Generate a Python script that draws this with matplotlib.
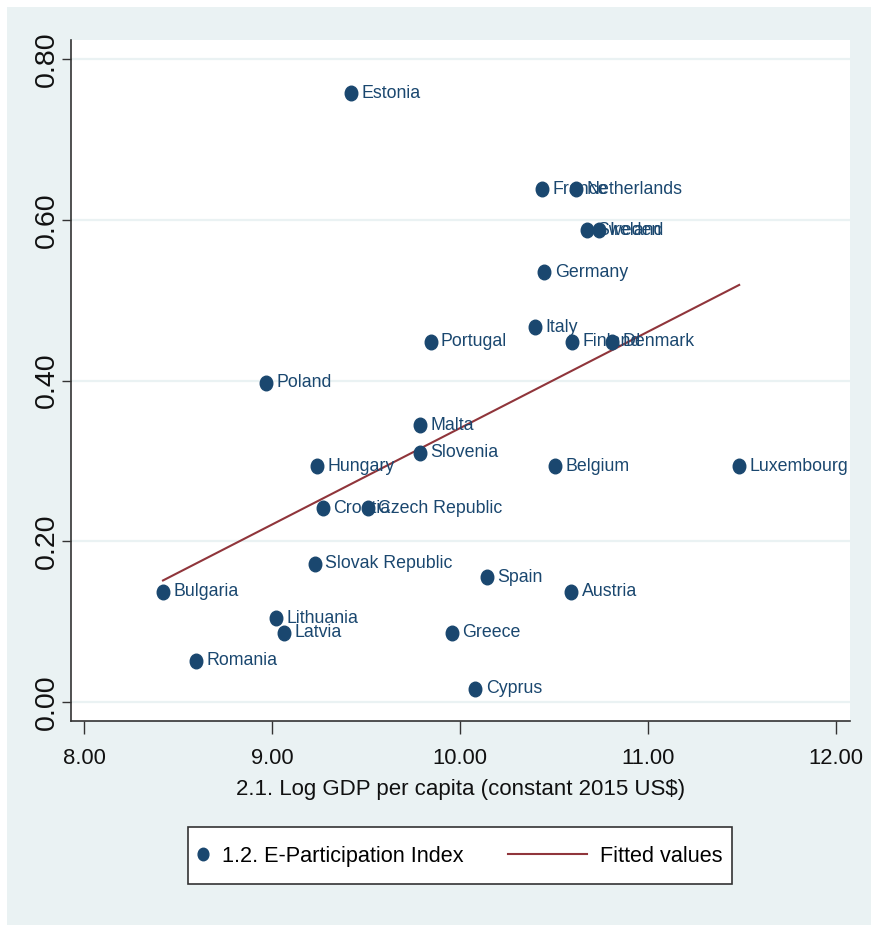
import numpy as np
import matplotlib
matplotlib.use("Agg")
import matplotlib.pyplot as plt
from matplotlib.path import Path
from matplotlib.patches import Rectangle
from matplotlib.legend_handler import HandlerLine2D

# data
countries = ["Estonia", "France", "Netherlands", "Sweden", "Ireland", "Germany",
             "Italy", "Portugal", "Finland", "Denmark", "Poland", "Malta",
             "Slovenia", "Hungary", "Belgium", "Luxembourg", "Croatia",
             "Czech Republic", "Slovak Republic", "Spain", "Bulgaria", "Austria",
             "Lithuania", "Latvia", "Greece", "Romania", "Cyprus"]
log_gdp = [9.421, 10.438, 10.619, 10.677, 10.741, 10.449,
           10.401, 9.843, 10.598, 10.810, 8.967, 9.785,
           9.785, 9.238, 10.507, 11.485, 9.270,
           9.509, 9.227, 10.141, 8.420, 10.592,
           9.020, 9.062, 9.955, 8.595, 10.082]
e_part = [0.758, 0.638, 0.638, 0.587, 0.587, 0.535,
          0.466, 0.448, 0.448, 0.448, 0.397, 0.344,
          0.310, 0.293, 0.293, 0.293, 0.241,
          0.241, 0.172, 0.155, 0.137, 0.137,
          0.104, 0.086, 0.086, 0.051, 0.016]
fit_x = [8.42, 11.485]
fit_y = [0.151, 0.519]
xticks = [8, 9, 10, 11, 12]
yticks = [0.0, 0.2, 0.4, 0.6, 0.8]

navy = "#1A476F"
maroon = "#90353B"
bluegray = "#EAF2F3"
font = ["Liberation Sans", "DejaVu Sans"]

fig = plt.figure(figsize=(8.71, 9.25), dpi=100, facecolor="white")
fig.patches.append(Rectangle((7 / 871, 0), 1, 1 - 7 / 925, transform=fig.transFigure,
                             facecolor=bluegray, edgecolor="none", zorder=-10))

ax = fig.add_axes([70.5 / 871, 1 - 721 / 925, (850 - 70.5) / 871, (721 - 40) / 925])
ax.set_facecolor("white")

# elliptical dot (picture is stretched vertically)
circ = Path.unit_circle()
dot = Path(circ.vertices * [0.86, 1.0], circ.codes)

ax.plot(log_gdp, e_part, linestyle="none", marker=dot, markersize=10.5,
        color=navy, zorder=3, label="1.2. E-Participation Index")
ax.plot(fit_x, fit_y, color=maroon, lw=1.5, zorder=2, label="Fitted values")

for name, x, y in zip(countries, log_gdp, e_part):
    ax.annotate(name, (x, y), xytext=(7.5, 0), textcoords="offset points",
                va="center", ha="left", fontsize=12.8, color=navy, family=font,
                zorder=4)

ax.set_xlim(7.928, 12.0745)
ax.set_ylim(-0.024, 0.824)
ax.set_xticks(xticks)
ax.set_xticklabels(["%.2f" % v for v in xticks], family=font, fontsize=15.8)
ax.set_yticks(yticks)
ax.set_yticklabels(["%.2f" % v for v in yticks], family=font,
                   fontsize=20.5, rotation=90, va="center")
ax.grid(axis="y", color=bluegray, lw=1.6)
ax.grid(axis="x", visible=False)
ax.set_axisbelow(True)
ax.tick_params(axis="x", length=9, width=1.0, color="#333333", pad=10.5, labelcolor="#111111")
ax.tick_params(axis="y", length=6.5, width=1.0, color="#333333", pad=1.5, labelcolor="#111111")
for s in ["top", "right"]:
    ax.spines[s].set_visible(False)
for s in ["left", "bottom"]:
    ax.spines[s].set_color("#333333")
    ax.spines[s].set_linewidth(1.2)

ax.set_xlabel("2.1. Log GDP per capita (constant 2015 US$)", family=font,
              fontsize=16, labelpad=7, color="#111111")


class KeyHandler(HandlerLine2D):
    # lowers the key to the text middle; ext stretches the line to the left
    def __init__(self, ext=0.0, drop=3.5, **kw):
        super().__init__(**kw)
        self.ext = ext
        self.drop = drop

    def get_xdata(self, legend, xdescent, ydescent, width, height, fontsize):
        xd = np.array([-xdescent - self.ext * width, -xdescent + width])
        if self.ext == 0:
            xd = np.array([-xdescent + 0.5 * width])
        return xd, xd

    def create_artists(self, legend, orig_handle, xdescent, ydescent, width,
                       height, fontsize, trans):
        return super().create_artists(legend, orig_handle, xdescent,
                                      ydescent + 2 * self.drop, width, height,
                                      fontsize, trans)


handles, labels = ax.get_legend_handles_labels()
leg = fig.legend(handles, labels, loc="center",
                 bbox_to_anchor=(460 / 871, 1 - 855.5 / 925), ncol=2,
                 prop={"family": font, "size": 15.6}, frameon=True, fancybox=False,
                 edgecolor="#333333", framealpha=1, handlelength=0.5,
                 handleheight=2.25, handletextpad=0.6, columnspacing=5.2,
                 borderpad=0.45, numpoints=1,
                 handler_map={handles[0]: KeyHandler(), handles[1]: KeyHandler(ext=6.3)})
leg.get_frame().set_linewidth(1.2)
leg.legend_handles[0].set_markersize(9)

fig.savefig("out.png", dpi=100, facecolor=fig.get_facecolor())
